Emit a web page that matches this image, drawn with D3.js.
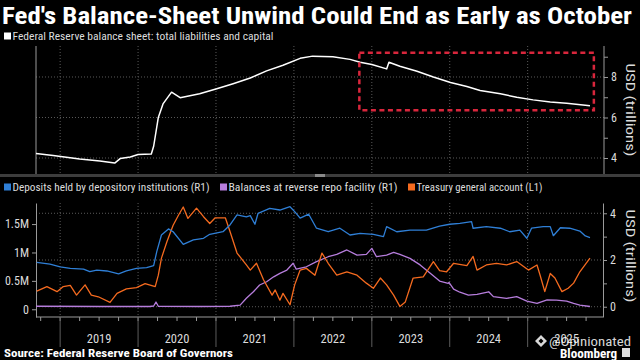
<!DOCTYPE html>
<html>
<head>
<meta charset="utf-8">
<script src="https://cdn.jsdelivr.net/npm/d3@7/dist/d3.min.js"></script>
<style>
  html, body { margin: 0; padding: 0; background: #000; }
  svg { display: block; background: #000; }
  text { font-family: "Liberation Sans Narrow", "Roboto Condensed", "DejaVu Sans Condensed", "DejaVu Sans", sans-serif; }
</style>
</head>
<body>
<svg id="chart" width="640" height="360"></svg>
<script>
// ---- data (x values are decimal years) ----

// Federal Reserve balance sheet: total liabilities and capital, USD trillions
var fedYears = [2018.69, 2018.91, 2019.25, 2019.51, 2019.70, 2019.77, 2019.90, 2020.00, 2020.17, 2020.20,
  2020.26, 2020.32, 2020.43, 2020.54, 2020.79, 2021.01, 2021.22, 2021.44, 2021.65, 2021.86,
  2022.08, 2022.24, 2022.50, 2022.72, 2022.85, 2023.00, 2023.19, 2023.22, 2023.36, 2023.58,
  2023.79, 2024.01, 2024.22, 2024.39, 2024.65, 2024.86, 2025.07, 2025.29, 2025.50, 2025.80];
var fedValues = [4.22, 4.12, 3.95, 3.85, 3.75, 3.97, 4.05, 4.17, 4.20, 4.58,
  6.00, 6.67, 7.25, 6.98, 7.17, 7.42, 7.67, 7.95, 8.30, 8.58,
  8.92, 9.03, 9.00, 8.87, 8.73, 8.62, 8.40, 8.73, 8.53, 8.28,
  8.00, 7.73, 7.53, 7.33, 7.17, 7.00, 6.87, 6.77, 6.70, 6.58];

// Deposits held by depository institutions (R1), USD trillions
var depYears = [2018.70, 2018.87, 2019.00, 2019.13, 2019.30, 2019.38, 2019.47, 2019.60, 2019.75, 2019.85,
  2019.98, 2020.11, 2020.20, 2020.24, 2020.30, 2020.39, 2020.45, 2020.58, 2020.71, 2020.84,
  2020.92, 2021.09, 2021.18, 2021.27, 2021.39, 2021.44, 2021.50, 2021.54, 2021.69, 2021.82,
  2021.95, 2022.01, 2022.08, 2022.19, 2022.29, 2022.44, 2022.59, 2022.72, 2022.85, 2023.02,
  2023.15, 2023.19, 2023.32, 2023.49, 2023.70, 2023.87, 2024.00, 2024.13, 2024.28, 2024.30,
  2024.47, 2024.65, 2024.77, 2024.90, 2024.99, 2025.05, 2025.20, 2025.29, 2025.33, 2025.42,
  2025.54, 2025.67, 2025.74, 2025.80];
var depValues = [1.90, 1.82, 1.71, 1.64, 1.61, 1.50, 1.57, 1.53, 1.41, 1.53,
  1.64, 1.67, 1.76, 2.36, 3.07, 3.33, 3.21, 2.67, 2.86, 2.93,
  3.10, 3.21, 3.50, 3.93, 3.85, 3.90, 3.53, 4.00, 4.21, 4.14,
  4.28, 4.07, 3.79, 3.96, 3.36, 3.21, 3.36, 3.07, 3.14, 3.10,
  3.00, 3.43, 3.21, 3.28, 3.28, 3.45, 3.53, 3.57, 3.64, 3.36,
  3.43, 3.36, 3.21, 3.28, 2.93, 3.36, 3.43, 3.43, 3.04, 3.38,
  3.36, 3.24, 3.03, 2.96];

// Balances at reverse repo facility (R1), USD trillions
var rrpYears = [2018.69, 2019.51, 2020.15, 2020.20, 2020.23, 2020.26, 2020.79, 2021.18, 2021.31, 2021.39,
  2021.48, 2021.56, 2021.65, 2021.74, 2021.82, 2021.91, 2021.99, 2022.03, 2022.16, 2022.29,
  2022.44, 2022.55, 2022.68, 2022.81, 2022.93, 2023.00, 2023.06, 2023.19, 2023.28, 2023.36,
  2023.49, 2023.62, 2023.75, 2023.87, 2023.98, 2023.99, 2024.05, 2024.13, 2024.24, 2024.35,
  2024.50, 2024.56, 2024.73, 2024.86, 2024.99, 2025.12, 2025.25, 2025.37, 2025.50, 2025.59,
  2025.67, 2025.80];
var rrpValues = [0.02, 0.01, 0.01, 0.03, 0.20, 0.02, 0.01, 0.02, 0.07, 0.36,
  0.64, 0.93, 1.07, 1.28, 1.43, 1.57, 1.86, 1.61, 1.71, 1.93,
  2.14, 2.24, 2.43, 2.21, 2.24, 2.50, 2.14, 2.21, 2.33, 2.24,
  2.07, 1.79, 1.43, 1.10, 1.00, 1.04, 0.75, 0.62, 0.50, 0.53,
  0.64, 0.43, 0.36, 0.43, 0.24, 0.14, 0.29, 0.28, 0.24, 0.14,
  0.07, 0.01];

// Treasury general account (L1), USD millions (in M)
var tgaYears = [2018.70, 2018.83, 2018.96, 2019.04, 2019.13, 2019.21, 2019.32, 2019.40, 2019.49, 2019.64,
  2019.73, 2019.85, 2019.98, 2020.09, 2020.22, 2020.26, 2020.30, 2020.37, 2020.45, 2020.52,
  2020.58, 2020.64, 2020.75, 2020.84, 2020.92, 2020.99, 2021.12, 2021.18, 2021.27, 2021.39,
  2021.44, 2021.52, 2021.61, 2021.72, 2021.76, 2021.82, 2021.86, 2021.95, 2022.01, 2022.08,
  2022.16, 2022.27, 2022.36, 2022.44, 2022.55, 2022.68, 2022.81, 2022.93, 2023.02, 2023.11,
  2023.19, 2023.28, 2023.36, 2023.43, 2023.53, 2023.66, 2023.79, 2023.87, 2023.96, 2024.05,
  2024.22, 2024.30, 2024.35, 2024.47, 2024.60, 2024.73, 2024.86, 2025.01, 2025.12, 2025.16,
  2025.22, 2025.29, 2025.35, 2025.44, 2025.52, 2025.59, 2025.67, 2025.80];
var tgaValues = [0.32, 0.40, 0.31, 0.40, 0.42, 0.25, 0.43, 0.25, 0.22, 0.12,
  0.28, 0.36, 0.38, 0.45, 0.40, 0.60, 0.90, 1.19, 1.48, 1.66,
  1.80, 1.60, 1.78, 1.63, 1.51, 1.61, 1.61, 1.37, 0.99, 0.78,
  0.69, 0.81, 0.52, 0.25, 0.34, 0.16, 0.28, 0.08, 0.43, 0.69,
  0.72, 0.60, 0.99, 0.81, 0.60, 0.66, 0.60, 0.46, 0.37, 0.55,
  0.43, 0.25, 0.05, 0.13, 0.55, 0.57, 0.84, 0.68, 0.66, 0.81,
  0.77, 0.93, 0.69, 0.78, 0.81, 0.78, 0.84, 0.69, 0.78, 0.60,
  0.31, 0.63, 0.55, 0.31, 0.37, 0.46, 0.66, 0.90];

// axis labels
var yearLabels = [2019, 2020, 2021, 2022, 2023, 2024, 2025];
var topTicks = [4, 5, 6, 7, 8, 9];
var topTickLabels = ["4", "", "6", "", "8", ""];
var rightTicks = [0, 1, 2, 3, 4];
var rightTickLabels = ["0", "", "2", "", "4"];
var leftTicks = [0, 0.5, 1, 1.5];
var leftTickLabels = ["0", "0.5M", "1M", "1.5M"];

// highlighted area (years, trillions)
var boxYears = [2022.84, 2025.85];
var boxValues = [6.36, 9.2];

// ---- colours ----
var colFed = "#ffffff";
var colDep = "#2f7fd6";
var colRrp = "#b67ddc";
var colTga = "#f46a1f";
var colGrid = "#5a5a5a";
var colAxis = "#9a9a9a";
var colText = "#dcdcdc";

var svg = d3.select("#chart");

// ---- scales ----
var x = d3.scaleLinear().domain([2018.69, 2025.98]).range([36, 604]);
var yTop = d3.scaleLinear().domain([3.21, 9.53]).range([174, 46]);
var yRight = d3.scaleLinear().domain([-0.44, 4.44]).range([317, 203]);
var yLeft = d3.scaleLinear().domain([-0.136, 1.871]).range([317, 203]);

// ---- title and legends ----
svg.append("text")
  .attr("x", 2).attr("y", 24)
  .attr("textLength", 630).attr("lengthAdjust", "spacingAndGlyphs")
  .style("font-size", "23px").style("font-weight", "bold")
  .attr("fill", "#fff")
  .text("Fed's Balance-Sheet Unwind Could End as Early as October");

function legendItem(x0, y0, color, label, len) {
  svg.append("rect").attr("x", x0).attr("y", y0 - 7.5).attr("width", 7).attr("height", 7).attr("fill", color);
  svg.append("text")
    .attr("x", x0 + 8.5).attr("y", y0)
    .attr("textLength", len).attr("lengthAdjust", "spacingAndGlyphs")
    .style("font-size", "11px").attr("fill", colText)
    .text(label);
}

legendItem(4, 40, colFed, "Federal Reserve balance sheet: total liabilities and capital", 261);
legendItem(4, 191, colDep, "Deposits held by depository institutions (R1)", 197);
legendItem(220, 191, colRrp, "Balances at reverse repo facility (R1)", 169);
legendItem(408, 191, colTga, "Treasury general account  (L1)", 126);

// ---- grids ----
function hGrid(scale, values, y0, y1) {
  svg.append("g").selectAll("line").data(values).enter().append("line")
    .attr("x1", 36).attr("x2", 604)
    .attr("y1", function(d) { return scale(d); })
    .attr("y2", function(d) { return scale(d); })
    .attr("stroke", colGrid).attr("stroke-dasharray", "1,2");
}

function vGrid(y0, y1) {
  svg.append("g").selectAll("line").data(yearLabels).enter().append("line")
    .attr("x1", function(d) { return x(d); })
    .attr("x2", function(d) { return x(d); })
    .attr("y1", y0).attr("y2", y1)
    .attr("stroke", colGrid).attr("stroke-dasharray", "1,2");
}

hGrid(yTop, [4, 6, 8]);
vGrid(46, 174);
hGrid(yRight, [0, 2, 4]);
vGrid(203, 317);

// panel separator
svg.append("rect").attr("x", 0).attr("y", 174).attr("width", 640).attr("height", 3).attr("fill", "#3d3d3d");
svg.append("rect").attr("x", 315).attr("y", 174).attr("width", 10).attr("height", 3).attr("fill", "#8a8a8a");

// ---- axes ----
function styleAxis(g) {
  g.selectAll("path, line").attr("stroke", colAxis);
  g.selectAll("text").attr("fill", colText).style("font-size", "12px");
  return g;
}

// left axis lines
svg.append("line").attr("x1", 36).attr("x2", 36).attr("y1", 46).attr("y2", 174).attr("stroke", colAxis);

svg.append("g").attr("transform", "translate(604,0)")
  .call(d3.axisRight(yTop).tickValues(topTicks).tickSize(4).tickSizeOuter(0)
    .tickFormat(function(d, i) { return topTickLabels[i]; }))
  .call(styleAxis)
  .call(function(g) { g.select(".domain").attr("d", "M0,46V174"); });

svg.append("g").attr("transform", "translate(603,0)")
  .call(d3.axisRight(yRight).tickValues(rightTicks).tickSize(4).tickSizeOuter(0)
    .tickFormat(function(d, i) { return rightTickLabels[i]; }))
  .call(styleAxis);

svg.append("g").attr("transform", "translate(36,0)")
  .call(d3.axisLeft(yLeft).tickValues(leftTicks).tickSize(4).tickSizeOuter(0)
    .tickFormat(function(d, i) { return leftTickLabels[i]; }))
  .call(styleAxis);

// bottom time axis: quarterly ticks, year separators and mid-year labels
var quarters = d3.range(2018.75, 2025.9, 0.25);
svg.append("line").attr("x1", 36).attr("x2", 603).attr("y1", 317).attr("y2", 317).attr("stroke", colAxis);
svg.append("g").selectAll("line").data(quarters).enter().append("line")
  .attr("x1", function(d) { return x(d); }).attr("x2", function(d) { return x(d); })
  .attr("y1", 317).attr("y2", 321)
  .attr("stroke", colAxis);
svg.append("g").selectAll("line").data(yearLabels).enter().append("line")
  .attr("x1", function(d) { return x(d); }).attr("x2", function(d) { return x(d); })
  .attr("y1", 317).attr("y2", 347)
  .attr("stroke", "#5c5c5c");
svg.append("g").selectAll("text").data(yearLabels).enter().append("text")
  .attr("x", function(d) { return x(d + 0.5); })
  .attr("y", 343)
  .attr("text-anchor", "middle")
  .attr("fill", colText).style("font-size", "12.5px")
  .text(function(d) { return d; });

// right axis titles
[110, 256].forEach(function(cy) {
  svg.append("text")
    .attr("transform", "translate(626," + cy + ") rotate(90)")
    .attr("text-anchor", "middle")
    .attr("textLength", 93).attr("lengthAdjust", "spacingAndGlyphs")
    .attr("fill", colText).style("font-size", "13.5px")
    .text("USD (trillions)");
});

// ---- lines ----
function drawLine(years, values, yScale, color, width) {
  var line = d3.line()
    .x(function(d) { return x(d[0]); })
    .y(function(d) { return yScale(d[1]); });
  svg.append("path")
    .datum(d3.zip(years, values))
    .attr("d", line)
    .attr("fill", "none")
    .attr("stroke", color)
    .attr("stroke-width", width)
    .attr("stroke-linejoin", "round");
}

drawLine(fedYears, fedValues, yTop, colFed, 1.5);
drawLine(rrpYears, rrpValues, yRight, colRrp, 1.3);
drawLine(tgaYears, tgaValues, yLeft, colTga, 1.3);
drawLine(depYears, depValues, yRight, colDep, 1.3);

// highlight box
svg.append("rect")
  .attr("x", x(boxYears[0]))
  .attr("y", yTop(boxValues[1]))
  .attr("width", x(boxYears[1]) - x(boxYears[0]))
  .attr("height", yTop(boxValues[0]) - yTop(boxValues[1]))
  .attr("fill", "none")
  .attr("stroke", "#d8263c")
  .attr("stroke-width", 2.5)
  .attr("stroke-dasharray", "5,3.5");

// ---- footer ----
svg.append("text")
  .attr("x", 4).attr("y", 357)
  .attr("textLength", 229).attr("lengthAdjust", "spacingAndGlyphs")
  .style("font-size", "11.5px").style("font-weight", "bold")
  .attr("fill", "#fff")
  .text("Source: Federal Reserve Board of Governors");

// watermark
svg.append("path")
  .attr("d", "M541,335 L547,341 L541,347 L535,341 Z M541,338.5 L543.5,341 L541,343.5 L538.5,341 Z")
  .attr("fill", "rgba(255,255,255,0.85)").attr("fill-rule", "evenodd");
svg.append("text")
  .attr("x", 549).attr("y", 346)
  .attr("textLength", 82).attr("lengthAdjust", "spacingAndGlyphs")
  .style("font-size", "13px")
  .attr("fill", "rgba(255,255,255,0.85)")
  .text("@Opinionated");
svg.append("text")
  .attr("x", 560).attr("y", 358)
  .attr("textLength", 57).attr("lengthAdjust", "spacingAndGlyphs")
  .style("font-size", "12.5px").style("font-weight", "bold")
  .attr("fill", "#fff")
  .text("Bloomberg");
svg.append("rect").attr("x", 622).attr("y", 348).attr("width", 8).attr("height", 9).attr("fill", "#ddd");
</script>
</body>
</html>
